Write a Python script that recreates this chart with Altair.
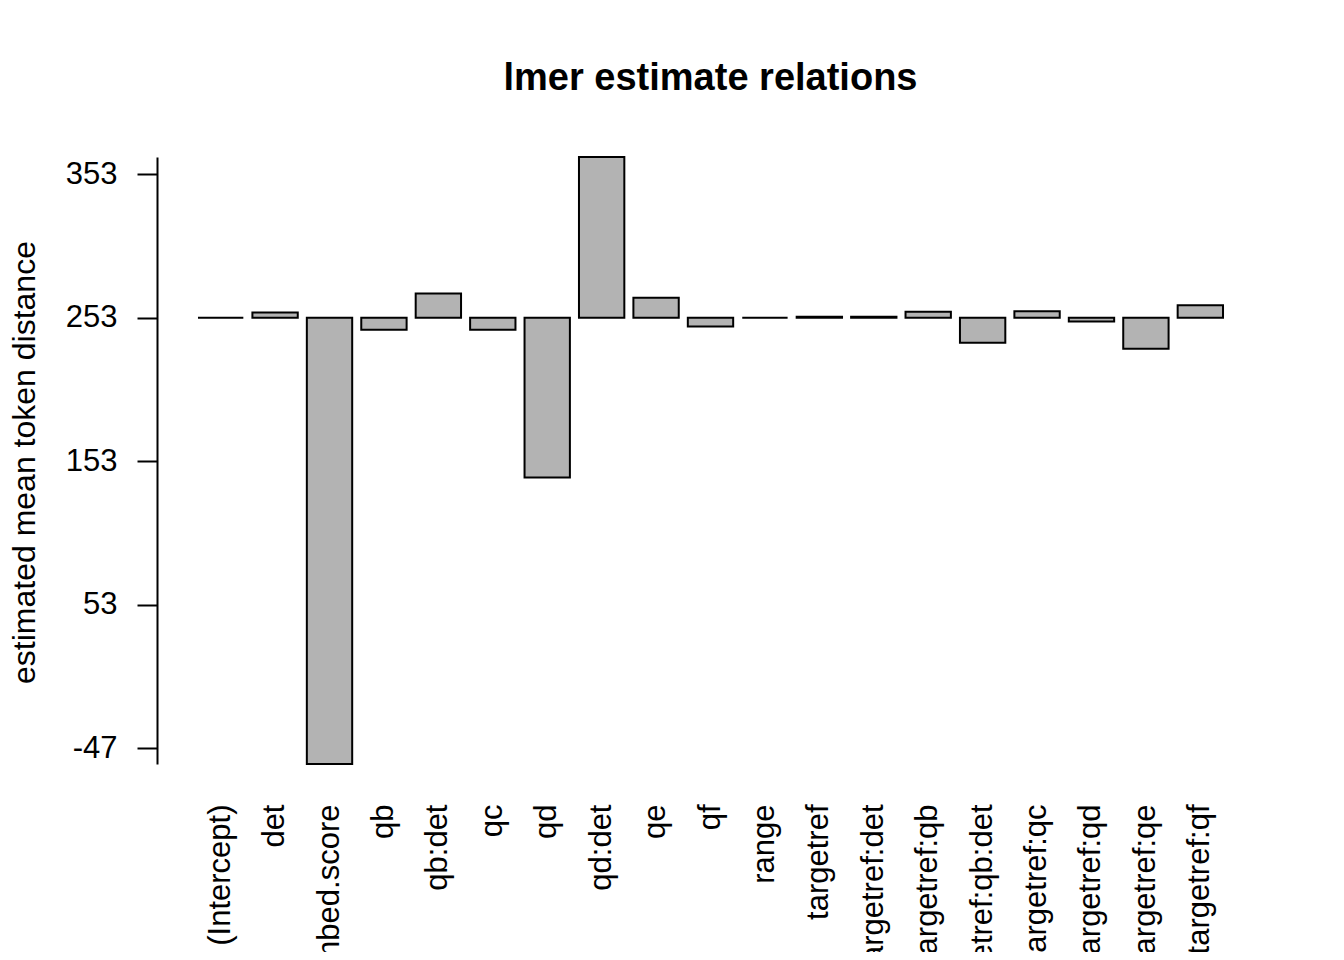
import altair as alt
import pandas as pd

terms = ["(Intercept)", "det", "embed.score", "qb", "qb:det", "qc", "qd", "qd:det",
         "qe", "qf", "range", "targetref", "targetref:det", "targetref:qb",
         "targetref:qb:det", "targetref:qc", "targetref:qd", "targetref:qe", "targetref:qf"]
estimates = [253.0, 256.7, -57.9, 244.8, 269.9, 244.8, 141.7, 365.1,
             267.1, 246.9, 253.0, 253.8, 253.8, 257.2,
             235.6, 257.6, 250.5, 231.4, 261.8]
baseline = 253.0
tick_values = [353, 253, 153, 53, -47]

df = pd.DataFrame({"term": terms, "estimate": estimates, "base": [baseline] * len(terms)})

FONT = "Liberation Sans"

chart = alt.Chart(df).mark_bar(
    fill="#B3B3B3", stroke="black", strokeWidth=2
).encode(
    x=alt.X("term:N", sort=terms,
            scale=alt.Scale(paddingInner=1 / 6, paddingOuter=0.753),
            axis=alt.Axis(title=None, labelAngle=270, labelAlign="right",
                          labelBaseline="middle", domain=False, ticks=False,
                          labelPadding=40, labelFontSize=31, labelFont=FONT,
                          labelColor="black", labelOverlap=False, labelLimit=0)),
    y=alt.Y("estimate:Q",
            scale=alt.Scale(domain=[-57.9, 365.1], nice=False, zero=False),
            axis=alt.Axis(title="estimated mean token distance", values=tick_values,
                          labelExpr="toString(datum.value)",
                          grid=False, tickSize=20, tickWidth=2, tickColor="black",
                          domainColor="black", domainWidth=2,
                          labelPadding=20, labelFontSize=31, labelFont=FONT,
                          labelColor="black", labelBaseline="middle",
                          titleFont=FONT, titleFontSize=32, titleFontWeight="normal",
                          titleColor="black", titleAngle=270, titleBaseline="alphabetic",
                          titleAlign="center", titleX=-123, titleY=305)),
    y2="base:Q",
).properties(
    width=1107,
    height=607,
    background="white",
    title=alt.TitleParams("lmer estimate relations", font=FONT, fontSize=38,
                          fontWeight="bold", color="black", anchor="middle",
                          baseline="alphabetic", offset=28),
    autosize=alt.AutoSizeParams(type="none"),
    padding={"left": 149, "top": 149, "right": 60, "bottom": 188},
).configure_view(stroke="transparent", strokeWidth=0)

chart.save("out.html", embed_options={"renderer": "svg", "actions": False})
